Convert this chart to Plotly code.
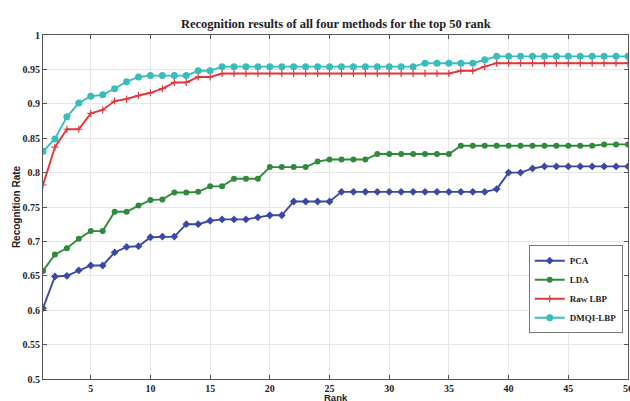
import plotly.graph_objects as go

rank = list(range(1, 51))

pca = [0.603, 0.649, 0.650, 0.658, 0.665, 0.665, 0.684, 0.692, 0.693, 0.706,
       0.707, 0.707, 0.725, 0.725, 0.730, 0.732, 0.732, 0.732, 0.735, 0.738,
       0.738, 0.758, 0.758, 0.758, 0.758, 0.772, 0.772, 0.772, 0.772, 0.772,
       0.772, 0.772, 0.772, 0.772, 0.772, 0.772, 0.772, 0.772, 0.776, 0.800,
       0.800, 0.806, 0.809, 0.809, 0.809, 0.809, 0.809, 0.809, 0.809, 0.809]

lda = [0.657, 0.681, 0.690, 0.704, 0.715, 0.715, 0.743, 0.743, 0.752, 0.760,
       0.761, 0.771, 0.771, 0.772, 0.780, 0.780, 0.791, 0.791, 0.791, 0.808,
       0.808, 0.808, 0.808, 0.816, 0.819, 0.819, 0.819, 0.819, 0.827, 0.827,
       0.827, 0.827, 0.827, 0.827, 0.827, 0.839, 0.839, 0.839, 0.839, 0.839,
       0.839, 0.839, 0.839, 0.839, 0.839, 0.839, 0.839, 0.841, 0.841, 0.841]

raw_lbp = [0.782, 0.837, 0.863, 0.863, 0.886, 0.891, 0.904, 0.907, 0.912, 0.916,
           0.922, 0.931, 0.931, 0.939, 0.939, 0.944, 0.944, 0.944, 0.944, 0.944,
           0.944, 0.944, 0.944, 0.944, 0.944, 0.944, 0.944, 0.944, 0.944, 0.944,
           0.944, 0.944, 0.944, 0.944, 0.944, 0.948, 0.948, 0.954, 0.959, 0.959,
           0.959, 0.959, 0.959, 0.959, 0.959, 0.959, 0.959, 0.959, 0.959, 0.959]

dmqi_lbp = [0.831, 0.849, 0.881, 0.901, 0.911, 0.913, 0.922, 0.932, 0.939, 0.941,
            0.941, 0.941, 0.941, 0.948, 0.948, 0.954, 0.954, 0.954, 0.954, 0.954,
            0.954, 0.954, 0.954, 0.954, 0.954, 0.954, 0.954, 0.954, 0.954, 0.954,
            0.954, 0.954, 0.959, 0.959, 0.959, 0.959, 0.959, 0.964, 0.969, 0.969,
            0.969, 0.969, 0.969, 0.969, 0.969, 0.969, 0.969, 0.969, 0.969, 0.969]

series_names = ["PCA", "LDA", "Raw LBP", "DMQI-LBP"]
x_ticks = [5, 10, 15, 20, 25, 30, 35, 40, 45, 50]
y_ticks = [0.5, 0.55, 0.6, 0.65, 0.7, 0.75, 0.8, 0.85, 0.9, 0.95, 1]
y_tick_labels = ["0.5", "0.55", "0.6", "0.65", "0.7", "0.75", "0.8", "0.85", "0.9", "0.95", "1"]

SERIF = "Liberation Serif, Times New Roman, serif"
SANS = "Liberation Sans, Arial, sans-serif"
INK = "#1e1e1e"

styles = [
    dict(color="#3a48a8", symbol="diamond", size=6),
    dict(color="#2f8a3c", symbol="circle", size=6),
    dict(color="#e0393b", symbol="cross-thin", size=5),
    dict(color="#3bbcbc", symbol="circle", size=7),
]

fig = go.Figure()
for name, vals, st in zip(series_names, [pca, lda, raw_lbp, dmqi_lbp], styles):
    fig.add_trace(go.Scatter(
        x=rank, y=vals, name="<b>%s</b>" % name, mode="lines+markers",
        line=dict(color=st["color"], width=1.9),
        marker=dict(symbol=st["symbol"], size=st["size"], color=st["color"],
                    line=dict(color=st["color"], width=1.2 if st["symbol"] == "cross-thin" else 0)),
    ))

axis_common = dict(showline=True, linecolor="#555555", linewidth=1, mirror="ticks",
                   ticks="inside", ticklen=4, tickcolor="#555555",
                   showgrid=True, gridcolor="#e6e6e6", gridwidth=1, zeroline=False,
                   automargin=False, ticklabeloverflow="allow",
                   tickfont=dict(family=SERIF, size=10, color=INK))

fig.update_xaxes(range=[1, 50], tickvals=x_ticks,
                 ticktext=["<b>%d</b>" % t for t in x_ticks],
                 **axis_common)
fig.update_yaxes(range=[0.5, 1], tickvals=y_ticks,
                 ticktext=["<b>%s</b>" % t for t in y_tick_labels],
                 title=dict(text="<b>Recognition Rate</b>", font=dict(family=SANS, size=10, color=INK),
                            standoff=0),
                 **axis_common)

fig.add_annotation(text="<b>Rank</b>", x=0.5, y=0, xref="paper", yref="paper",
                   xanchor="center", yanchor="top", yshift=-11, showarrow=False,
                   font=dict(family=SANS, size=9.5, color=INK))

fig.update_layout(
    width=630, height=401,
    margin=dict(l=43, r=2, t=35, b=22),
    paper_bgcolor="white", plot_bgcolor="white",
    title=dict(text="<b>Recognition results of all four methods for the top 50 rank</b>",
               font=dict(family=SERIF, size=12.5, color=INK),
               x=0.533, xanchor="center", y=1 - 24 / 401, yanchor="middle"),
    showlegend=True,
    legend=dict(x=0.991, y=0.389, xanchor="right", yanchor="top",
                bgcolor="white", bordercolor="#777777", borderwidth=1,
                font=dict(family=SERIF, size=9, color=INK),
                itemwidth=30, tracegroupgap=0),
)

fig.write_html("out.html", config={"displayModeBar": False},
               post_script="document.body.style.margin='0';")
